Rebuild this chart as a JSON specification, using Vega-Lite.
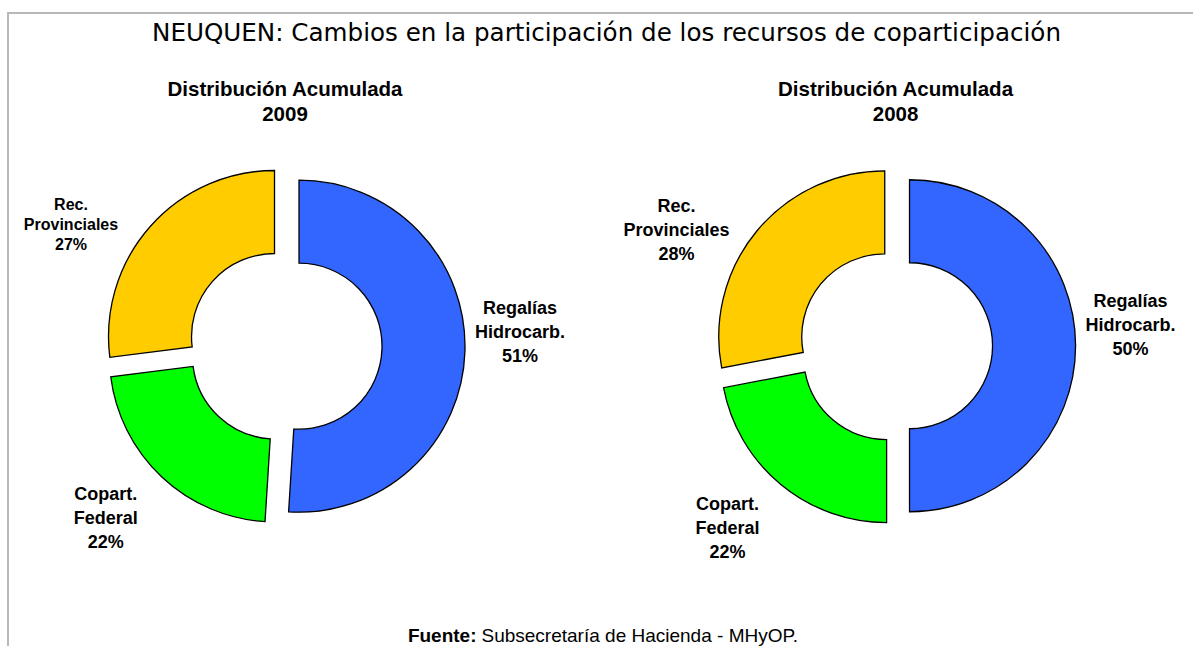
{
  "$schema": "https://vega.github.io/schema/vega-lite/v6.json",
  "width": 1185,
  "height": 633,
  "autosize": {"type": "none"},
  "padding": {"left": 8, "top": 13, "right": 0, "bottom": 0},
  "background": "white",
  "title": {
    "text": "NEUQUEN: Cambios en la participación de los recursos de coparticipación",
    "font": "DejaVu Sans",
    "fontSize": 24.6,
    "fontWeight": "normal",
    "color": "#000000",
    "anchor": "middle",
    "frame": "group",
    "baseline": "alphabetic",
    "offset": -29,
    "dy": 24,
    "dx": 6
  },
  "config": {
    "view": {"stroke": "#b8b8b8", "strokeWidth": 2, "strokeDash": [1185, 1818, 633]}
  },
  "datasets": {
    "shares": [
      {"year": "2009", "cat": "Regalías Hidrocarb.", "label": "Regalías\nHidrocarb.", "value": 51, "ord": 1},
      {"year": "2009", "cat": "Copart. Federal", "label": "Copart.\nFederal", "value": 22, "ord": 2},
      {"year": "2009", "cat": "Rec. Provinciales", "label": "Rec.\nProvinciales", "value": 27, "ord": 3},
      {"year": "2008", "cat": "Regalías Hidrocarb.", "label": "Regalías\nHidrocarb.", "value": 50, "ord": 1},
      {"year": "2008", "cat": "Copart. Federal", "label": "Copart.\nFederal", "value": 22, "ord": 2},
      {"year": "2008", "cat": "Rec. Provinciales", "label": "Rec.\nProvinciales", "value": 28, "ord": 3}
    ],
    "subtitles": [
      {"year": "2009", "sub": "Distribución Acumulada\n2009"},
      {"year": "2008", "sub": "Distribución Acumulada\n2008"}
    ],
    "footer_bold": [{"t": "Fuente:"}],
    "footer_rest": [{"t": "Subsecretaría de Hacienda - MHyOP."}]
  },
  "layer": [
    {
      "data": {"name": "shares"},
      "transform": [
        {"stack": "value", "groupby": ["year"], "sort": [{"field": "ord", "order": "ascending"}], "as": ["v0", "v1"]}
      ],
      "mark": {
        "type": "arc",
        "outerRadius": 166,
        "innerRadius": 83,
        "stroke": "#000000",
        "strokeWidth": 1.3,
        "xOffset": {"expr": "14*sin(PI*(datum.v0+datum.v1)/100)"},
        "yOffset": {"expr": "-14*cos(PI*(datum.v0+datum.v1)/100)"}
      },
      "encoding": {
        "x": {"field": "year", "type": "nominal", "scale": {"type": "point", "domain": ["2009", "2008"], "padding": 0.4705, "align": 0.4822}, "axis": null},
        "y": {"datum": "pie", "type": "nominal", "scale": {"type": "point", "domain": ["pie"], "align": 0.5257}, "axis": null},
        "theta": {"field": "v0", "type": "quantitative", "scale": {"domain": [0, 100]}},
        "theta2": {"field": "v1"},
        "color": {
          "field": "cat",
          "type": "nominal",
          "scale": {"domain": ["Regalías Hidrocarb.", "Copart. Federal", "Rec. Provinciales"], "range": ["#3366FF", "#00FF00", "#FFCC00"]},
          "legend": null
        }
      }
    },
    {
      "data": {"name": "shares"},
      "transform": [
        {"stack": "value", "groupby": ["year"], "sort": [{"field": "ord", "order": "ascending"}], "as": ["v0", "v1"]}
      ],
      "mark": {
        "type": "text",
        "font": "Liberation Sans",
        "fontWeight": "bold",
        "color": "#000000",
        "fontSize": {"expr": "datum.year === '2009' && datum.ord === 3 ? 16 : 18"},
        "lineHeight": {"expr": "datum.year === '2009' && datum.ord === 3 ? 20 : 24"},
        "lineBreak": "\n",
        "align": "center",
        "baseline": "middle",
        "theta": {"expr": "PI*(datum.v0+datum.v1)/100"},
        "radius": 240,
        "dx": {"expr": "datum.ord === 1 ? -5 : datum.ord === 3 ? -34 : -15"},
        "dy": {"expr": "(datum.ord === 1 ? -20 : datum.ord === 3 ? 38 : -2) - (datum.year === '2009' && datum.ord === 3 ? 20 : 24)"},
        "text": {"expr": "datum.label + '\\n' + datum.value + '%'"}
      },
      "encoding": {
        "x": {"field": "year", "type": "nominal", "scale": {"type": "point", "domain": ["2009", "2008"], "padding": 0.4705, "align": 0.4822}, "axis": null},
        "y": {"datum": "pie", "type": "nominal", "scale": {"type": "point", "domain": ["pie"], "align": 0.5257}, "axis": null}
      }
    },
    {
      "data": {"name": "subtitles"},
      "mark": {
        "type": "text",
        "font": "Liberation Sans",
        "fontWeight": "bold",
        "fontSize": 20.5,
        "lineHeight": 25,
        "lineBreak": "\n",
        "align": "center",
        "baseline": "alphabetic",
        "dy": -250,
        "color": "#000000"
      },
      "encoding": {
        "x": {"field": "year", "type": "nominal", "scale": {"type": "point", "domain": ["2009", "2008"], "padding": 0.4705, "align": 0.4822}, "axis": null},
        "y": {"datum": "pie", "type": "nominal", "scale": {"type": "point", "domain": ["pie"], "align": 0.5257}, "axis": null},
        "text": {"field": "sub"}
      }
    },
    {
      "data": {"name": "footer_bold"},
      "mark": {
        "type": "text",
        "y": "height",
        "dy": -4,
        "dx": -124,
        "align": "right",
        "baseline": "alphabetic",
        "font": "Liberation Sans",
        "fontWeight": "bold",
        "fontSize": 19,
        "color": "#000000"
      },
      "encoding": {"text": {"field": "t"}}
    },
    {
      "data": {"name": "footer_rest"},
      "mark": {
        "type": "text",
        "y": "height",
        "dy": -4,
        "dx": -119,
        "align": "left",
        "baseline": "alphabetic",
        "font": "Liberation Sans",
        "fontWeight": "normal",
        "fontSize": 19,
        "color": "#000000"
      },
      "encoding": {"text": {"field": "t"}}
    }
  ]
}
